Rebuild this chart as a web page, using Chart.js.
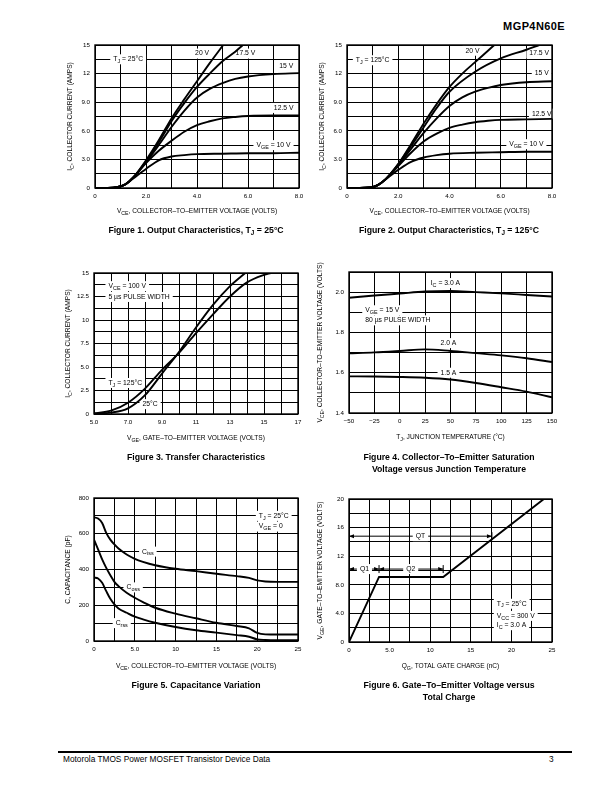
<!DOCTYPE html>
<html><head><meta charset="utf-8">
<script src="https://cdn.jsdelivr.net/npm/chart.js@4/dist/chart.umd.min.js"></script>
<style>
html,body{margin:0;padding:0;background:#fff;}
body{width:612px;height:792px;position:relative;overflow:hidden;font-family:"Liberation Sans",Arial,Helvetica,sans-serif;color:#000;}
canvas{position:absolute;}
.cap{position:absolute;width:300px;text-align:center;font-weight:bold;font-size:8.7px;line-height:12px;}
.cap sub{font-size:6.3px;vertical-align:-1.5px;line-height:0;}
#hdr{position:absolute;right:47px;top:20px;font-weight:900;font-size:11px;letter-spacing:0.4px;}
#rule{position:absolute;left:58px;top:751px;width:514px;height:2px;background:#000;}
#foot{position:absolute;left:63px;top:754px;font-size:8.3px;}
#pg{position:absolute;left:549px;top:754px;font-size:8.3px;}
</style></head><body>
<div id="hdr">MGP4N60E</div>
<canvas id="c1"></canvas><canvas id="c2"></canvas>
<canvas id="c3"></canvas><canvas id="c4"></canvas>
<canvas id="c5"></canvas><canvas id="c6"></canvas>
<div class="cap" style="left:46px;top:224px;">Figure 1. Output Characteristics, T<sub>J</sub> = 25°C</div>
<div class="cap" style="left:299px;top:224px;">Figure 2. Output Characteristics, T<sub>J</sub> = 125°C</div>
<div class="cap" style="left:46px;top:451px;">Figure 3. Transfer Characteristics</div>
<div class="cap" style="left:299px;top:451px;">Figure 4. Collector–To–Emitter Saturation<br>Voltage versus Junction Temperature</div>
<div class="cap" style="left:46px;top:679px;">Figure 5. Capacitance Variation</div>
<div class="cap" style="left:299px;top:679px;">Figure 6. Gate–To–Emitter Voltage versus<br>Total Charge</div>
<div id="rule"></div>
<div id="foot">Motorola TMOS Power MOSFET Transistor Device Data</div>
<div id="pg">3</div>
<script>
// ---------------- DATA ----------------
// Figure 1: output characteristics, TJ = 25 C (VCE volts -> IC amps)
const f1_vce_10  = [0, 0.5, 0.9, 1.2, 1.5, 2.0, 2.5, 3.0, 3.5, 4.0, 5.0, 6.0, 7.0, 8.0];
const f1_ic_10   = [0, 0, 0.1, 0.4, 1.0, 2.0, 2.9, 3.3, 3.45, 3.55, 3.6, 3.65, 3.65, 3.7];
const f1_vce_125 = [0, 0.5, 0.9, 1.2, 1.5, 2.0, 2.5, 3.0, 3.5, 4.0, 4.5, 5.0, 5.5, 6.0, 7.0, 8.0];
const f1_ic_125  = [0, 0, 0.1, 0.4, 1.1, 2.6, 3.9, 4.95, 5.9, 6.6, 7.0, 7.3, 7.45, 7.55, 7.6, 7.6];
const f1_vce_15  = [0, 0.5, 0.9, 1.2, 1.5, 2.0, 2.5, 3.0, 3.5, 4.0, 4.5, 5.0, 5.5, 6.0, 7.0, 8.0];
const f1_ic_15   = [0, 0, 0.1, 0.4, 1.1, 2.7, 4.5, 6.4, 8.1, 9.5, 10.4, 11.0, 11.45, 11.7, 11.95, 12.05];
const f1_vce_175 = [0, 0.5, 0.9, 1.2, 1.5, 2.0, 2.5, 3.0, 3.5, 4.0, 4.5, 5.0, 5.5, 5.8];
const f1_ic_175  = [0, 0, 0.1, 0.4, 1.1, 2.8, 4.8, 7.0, 8.9, 10.6, 12.0, 13.3, 14.3, 15];
const f1_vce_20  = [0, 0.5, 0.9, 1.2, 1.5, 2.0, 2.5, 3.0, 3.5, 4.0, 4.5, 5.03];
const f1_ic_20   = [0, 0, 0.1, 0.4, 1.1, 2.9, 5.0, 7.3, 9.3, 11.2, 13.1, 15];

// Figure 2: output characteristics, TJ = 125 C
const f2_vce_10  = [0, 0.5, 0.9, 1.2, 1.5, 2.0, 2.5, 3.0, 3.5, 4.0, 5.0, 6.0, 7.0, 8.0];
const f2_ic_10   = [0, 0, 0.05, 0.3, 0.9, 1.9, 2.75, 3.2, 3.45, 3.6, 3.7, 3.75, 3.8, 3.8];
const f2_vce_125 = [0, 0.5, 0.9, 1.2, 1.5, 2.0, 2.5, 3.0, 3.5, 4.0, 4.5, 5.0, 5.5, 6.0, 7.0, 8.0];
const f2_ic_125  = [0, 0, 0.05, 0.3, 0.9, 2.3, 3.7, 4.9, 5.7, 6.3, 6.65, 6.9, 7.05, 7.15, 7.2, 7.25];
const f2_vce_15  = [0, 0.5, 0.9, 1.2, 1.5, 2.0, 2.5, 3.0, 3.5, 4.0, 4.5, 5.0, 5.5, 6.0, 7.0, 8.0];
const f2_ic_15   = [0, 0, 0.05, 0.3, 0.9, 2.4, 4.1, 5.8, 7.3, 8.6, 9.5, 10.1, 10.5, 10.8, 11.1, 11.2];
const f2_vce_175 = [0, 0.5, 0.9, 1.2, 1.5, 2.0, 2.5, 3.0, 3.5, 4.0, 5.0, 6.0, 7.0, 7.5];
const f2_ic_175  = [0, 0, 0.05, 0.3, 0.9, 2.5, 4.4, 6.4, 8.4, 10.1, 12.2, 13.6, 14.5, 15];
const f2_vce_20  = [0, 0.5, 0.9, 1.2, 1.5, 2.0, 2.5, 3.0, 3.5, 4.0, 4.5, 5.0, 5.5, 5.75];
const f2_ic_20   = [0, 0, 0.05, 0.3, 0.9, 2.5, 4.6, 6.8, 8.8, 10.6, 12.0, 13.2, 14.4, 15];

// Figure 3: transfer characteristics (VGE volts -> IC amps)
const f3_vge_25  = [5, 6, 7, 8, 9, 10, 11, 12, 13, 13.9];
const f3_ic_25   = [0.05, 0.15, 0.6, 2.0, 4.3, 6.6, 9.2, 11.6, 13.6, 15];
const f3_vge_125 = [5, 6, 7, 8, 9, 10, 11, 12, 13, 14, 15, 15.4];
const f3_ic_125  = [0.05, 0.35, 1.2, 2.7, 4.7, 6.5, 8.6, 10.6, 12.5, 14.0, 14.8, 15];

// Figure 4: VCE(sat) vs junction temperature
const f4_tj      = [-50, -25, 0, 25, 50, 75, 100, 125, 150];
const f4_vce_3A  = [1.972, 1.983, 1.993, 2.003, 2.006, 2.0, 1.994, 1.986, 1.978];
const f4_vce_2A  = [1.697, 1.701, 1.708, 1.716, 1.708, 1.697, 1.686, 1.672, 1.653];
const f4_vce_15A = [1.582, 1.581, 1.579, 1.575, 1.566, 1.549, 1.528, 1.506, 1.478];

// Figure 5: capacitance variation (VCE volts -> pF)
const f5_vce  = [0, 0.5, 1, 1.5, 2, 2.5, 3, 4, 5, 6, 7.5, 10, 12.5, 15, 17.5, 19, 20, 21, 22.5, 25];
const f5_ciss = [692, 685, 660, 605, 567, 540, 517, 484, 460, 443, 424, 404, 391, 376, 363, 353, 339, 333, 331, 331];
const f5_coss = [567, 512, 456, 409, 368, 331, 307, 270, 242, 218, 186, 153, 127, 102, 84, 71, 45, 37, 36, 36];
const f5_crss = [355, 350, 326, 279, 236, 205, 182, 158, 136, 121, 102, 78, 60, 47, 33, 24, 9, 6, 5, 5];

// Figure 6: gate charge (QG nC -> VGE volts)
const f6_qg  = [0, 3.7, 11.6, 24.0];
const f6_vge = [0, 9.1, 9.1, 20];
const f6_q1  = 3.7, f6_q2end = 11.6, f6_qt = 17.6;

// ---------------- helpers ----------------
const FONT = '"Liberation Sans", Arial, Helvetica, sans-serif';
const TICK = 6.2, TITLE = 6.6, LAB = 6.8;
function pts(xs, ys){ return xs.map((x,i)=>({x:x, y:ys[i]})); }
function ser(xs, ys, smooth){
  return {data: pts(xs,ys), borderColor:'#000', borderWidth:1.9, pointRadius:0, fill:false,
          tension: 0, cubicInterpolationMode: smooth ? 'monotone' : 'default'};
}
function parseRich(s){
  const out=[]; const re=/_\{([^}]*)\}/g; let last=0, m;
  while((m=re.exec(s))){ if(m.index>last) out.push({t:s.slice(last,m.index),sub:false}); out.push({t:m[1],sub:true}); last=re.lastIndex; }
  if(last<s.length) out.push({t:s.slice(last),sub:false});
  return out;
}
function richWidth(ctx, s, size){
  let w=0; for(const seg of parseRich(s)){ ctx.font=(seg.sub?size*0.8:size)+'px '+FONT; w+=ctx.measureText(seg.t).width; } return w;
}
function drawRich(ctx, s, x, y, size, align){
  const w=richWidth(ctx,s,size);
  let cx = align==='center' ? x-w/2 : (align==='right' ? x-w : x);
  ctx.textBaseline='middle'; ctx.textAlign='left'; ctx.fillStyle='#000';
  for(const seg of parseRich(s)){
    const sz=seg.sub?size*0.8:size; ctx.font=sz+'px '+FONT;
    ctx.fillText(seg.t, cx, seg.sub? y+size*0.32 : y);
    cx+=ctx.measureText(seg.t).width;
  }
  return w;
}
// chart decorations: axis titles, boxed labels, arrows, frame
const deco = {
  id:'deco',
  beforeDatasetsDraw(chart){
    const o=chart.options.plugins.deco; if(!o) return;
    const ctx=chart.ctx, xs=chart.scales.x, ys=chart.scales.y;
    ctx.save();
    (o.arrows||[]).forEach(a=>{
      const y=ys.getPixelForValue(a.y), x1=xs.getPixelForValue(a.x1), x2=xs.getPixelForValue(a.x2);
      ctx.strokeStyle='#000'; ctx.lineWidth=1;
      ctx.beginPath(); ctx.moveTo(x1,y); ctx.lineTo(x2,y); ctx.stroke();
      ctx.fillStyle='#000';
      [[x1,1],[x2,-1]].forEach(([px,d])=>{ ctx.beginPath(); ctx.moveTo(px,y); ctx.lineTo(px+d*5,y-2); ctx.lineTo(px+d*5,y+2); ctx.closePath(); ctx.fill(); });
      (a.ticks||[]).forEach(t=>{ const px=xs.getPixelForValue(t); ctx.beginPath(); ctx.moveTo(px,y-4); ctx.lineTo(px,y+4); ctx.stroke(); });
    });
    (o.labels||[]).forEach(l=>{
      const px=xs.getPixelForValue(l.x), py=ys.getPixelForValue(l.y);
      const w=richWidth(ctx,l.t,LAB);
      const left = l.align==='left' ? px : px-w/2;
      ctx.fillStyle='#fff'; ctx.fillRect(left-3, py-5, w+6, 10);
      drawRich(ctx,l.t,left,py,LAB,'left');
    });
    ctx.restore();
  },
  afterDraw(chart){
    const o=chart.options.plugins.deco; if(!o) return;
    const ctx=chart.ctx, a=chart.chartArea;
    ctx.save();
    ctx.strokeStyle='#000'; ctx.lineWidth=1.4;
    ctx.strokeRect(a.left, a.top, a.right-a.left, a.bottom-a.top);
    drawRich(ctx, o.xTitle, (a.left+a.right)/2, a.bottom+o.xTitleOff, TITLE, 'center');
    ctx.translate(a.left-o.yTitleOff, (a.top+a.bottom)/2); ctx.rotate(-Math.PI/2);
    drawRich(ctx, o.yTitle, 0, 0, TITLE, 'center');
    ctx.restore();
  }
};
Chart.register(deco);

function make(id, rect, datasets, sx, sy, deco){
  const YW=45, PT=12, PR=14, XH=38;
  const cv=document.getElementById(id);
  cv.width=rect.R-rect.L+YW+PR; cv.height=rect.B-rect.T+PT+XH;
  cv.style.left=(rect.L-YW)+'px'; cv.style.top=(rect.T-PT)+'px';
  cv.style.width=cv.width+'px'; cv.style.height=cv.height+'px';
  const axis=(s,fit)=>({type:'linear', min:s.min, max:s.max,
    ticks:{stepSize:s.step, autoSkip:false, maxRotation:0, minRotation:0, color:'#000', padding:s.pad,
      font:{family:FONT,size:TICK}, callback:s.fmt},
    grid:{color:'#000', lineWidth:1, drawTicks:false},
    border:{display:false}, afterFit:fit});
  return new Chart(cv, {type:'line', data:{datasets},
    options:{responsive:false, animation:false, devicePixelRatio:1, parsing:false,
      layout:{padding:{top:PT,right:PR,left:0,bottom:0}},
      plugins:{legend:{display:false}, tooltip:{enabled:false}, deco},
      scales:{x:axis(sx, s=>{s.height=XH;}), y:axis(sy, s=>{s.width=YW;})}}});
}
const near=(v,m)=>Math.abs(v/m-Math.round(v/m))<1e-6;
const fmtDec=(m)=>(v)=> near(v,m) ? (v===0 ? '0' : (Math.abs(v)<10 ? v.toFixed(1) : String(Math.round(v*10)/10))) : '';

const sX8  = {min:0,max:8,step:1,pad:5,fmt:fmtDec(2)};
const sY15 = {min:0,max:15,step:1.5,pad:5,fmt:fmtDec(3)};
const VCE_T = 'V_{CE}, COLLECTOR–TO–EMITTER VOLTAGE (VOLTS)';
const IC_T  = 'I_{C}, COLLECTOR CURRENT (AMPS)';

make('c1', {L:95,T:45,R:299,B:188}, [
  ser(f1_vce_10,f1_ic_10,true), ser(f1_vce_125,f1_ic_125,true), ser(f1_vce_15,f1_ic_15,true),
  ser(f1_vce_175,f1_ic_175,true), ser(f1_vce_20,f1_ic_20,true)], sX8, sY15,
  {xTitle:VCE_T, xTitleOff:23, yTitle:IC_T, yTitleOff:25, labels:[
    {x:1.3,y:13.5,t:'T_{J} = 25°C'}, {x:4.2,y:14.1,t:'20 V'}, {x:5.9,y:14.1,t:'17.5 V'},
    {x:7.5,y:12.8,t:'15 V'}, {x:7.4,y:8.4,t:'12.5 V'}, {x:7.0,y:4.5,t:'V_{GE} = 10 V'}]});

make('c2', {L:347,T:45,R:552,B:188}, [
  ser(f2_vce_10,f2_ic_10,true), ser(f2_vce_125,f2_ic_125,true), ser(f2_vce_15,f2_ic_15,true),
  ser(f2_vce_175,f2_ic_175,true), ser(f2_vce_20,f2_ic_20,true)], sX8, sY15,
  {xTitle:VCE_T, xTitleOff:23, yTitle:IC_T, yTitleOff:25, labels:[
    {x:1.0,y:13.4,t:'T_{J} = 125°C'}, {x:4.9,y:14.4,t:'20 V'}, {x:7.5,y:14.1,t:'17.5 V'},
    {x:7.6,y:12.0,t:'15 V'}, {x:7.6,y:7.8,t:'12.5 V'}, {x:7.0,y:4.6,t:'V_{GE} = 10 V'}]});

make('c3', {L:94,T:273,R:298,B:414}, [
  ser(f3_vge_25,f3_ic_25,true), ser(f3_vge_125,f3_ic_125,true)],
  {min:5,max:17,step:1,pad:5,fmt:(v)=> (Math.round(v)%2===1) ? (v<10 ? v.toFixed(1) : String(v)) : ''},
  {min:0,max:15,step:1.25,pad:5,fmt:(v)=> near(v,2.5) ? (v===0?'0':(v<10?v.toFixed(1):String(v))) : ''},
  {xTitle:'V_{GE}, GATE–TO–EMITTER VOLTAGE (VOLTS)', xTitleOff:24, yTitle:IC_T, yTitleOff:26, labels:[
    {x:5.85,y:13.6,t:'V_{CE} = 100 V',align:'left'}, {x:5.85,y:12.45,t:'5 µs PULSE WIDTH',align:'left'},
    {x:5.85,y:3.3,t:'T_{J} = 125°C',align:'left'}, {x:8.3,y:1.05,t:'25°C'}]});

make('c4', {L:349,T:272,R:552,B:413}, [
  ser(f4_tj,f4_vce_3A,true), ser(f4_tj,f4_vce_2A,true), ser(f4_tj,f4_vce_15A,true)],
  {min:-50,max:150,step:25,pad:5,fmt:(v)=> v<0 ? '−'+Math.abs(v) : String(v)},
  {min:1.4,max:2.1,step:0.1,pad:5,fmt:(v)=> (Math.round(v*10)%2===0) ? v.toFixed(1) : ''},
  {xTitle:'T_{J}, JUNCTION TEMPERATURE (°C)', xTitleOff:24, yTitle:VCE_T, yTitleOff:29, labels:[
    {x:45,y:2.045,t:'I_{C} = 3.0 A'}, {x:-34,y:1.91,t:'V_{GE} = 15 V',align:'left'},
    {x:-34,y:1.86,t:'80 µs PULSE WIDTH',align:'left'}, {x:48,y:1.747,t:'2.0 A'}, {x:48,y:1.60,t:'1.5 A'}]});

make('c5', {L:94,T:498,R:298,B:641}, [
  ser(f5_vce,f5_ciss,true), ser(f5_vce,f5_coss,true), ser(f5_vce,f5_crss,true)],
  {min:0,max:25,step:2.5,pad:5,fmt:fmtDec(5)},
  {min:0,max:800,step:100,pad:5,fmt:(v)=> near(v,200) ? String(v) : ''},
  {xTitle:VCE_T, xTitleOff:25, yTitle:'C, CAPACITANCE (pF)', yTitleOff:26, labels:[
    {x:6.6,y:500,t:'C_{iss}'}, {x:4.8,y:300,t:'C_{oss}'}, {x:3.4,y:100,t:'C_{rss}'},
    {x:20.2,y:700,t:'T_{J} = 25°C',align:'left'}, {x:20.2,y:640,t:'V_{GE} = 0',align:'left'}]});

make('c6', {L:349,T:499,R:552,B:642}, [ser(f6_qg,f6_vge,false)],
  {min:0,max:25,step:2.5,pad:5,fmt:fmtDec(5)},
  {min:0,max:20,step:2,pad:5,fmt:fmtDec(4)},
  {xTitle:'Q_{G}, TOTAL GATE CHARGE (nC)', xTitleOff:24, yTitle:'V_{GE}, GATE–TO–EMITTER VOLTAGE (VOLTS)', yTitleOff:29,
   arrows:[{x1:0,x2:f6_qt,y:14.8,ticks:[f6_qt]}, {x1:0,x2:f6_q1,y:10.2,ticks:[f6_q1]}, {x1:f6_q1,x2:f6_q2end,y:10.2,ticks:[f6_q2end]}],
   labels:[{x:8.8,y:14.8,t:'QT'}, {x:1.9,y:10.2,t:'Q1'}, {x:7.6,y:10.2,t:'Q2'},
    {x:18.2,y:5.35,t:'T_{J} = 25°C',align:'left'}, {x:18.2,y:3.65,t:'V_{CC} = 300 V',align:'left'},
    {x:18.2,y:2.35,t:'I_{C} = 3.0 A',align:'left'}]});
</script>
</body></html>
